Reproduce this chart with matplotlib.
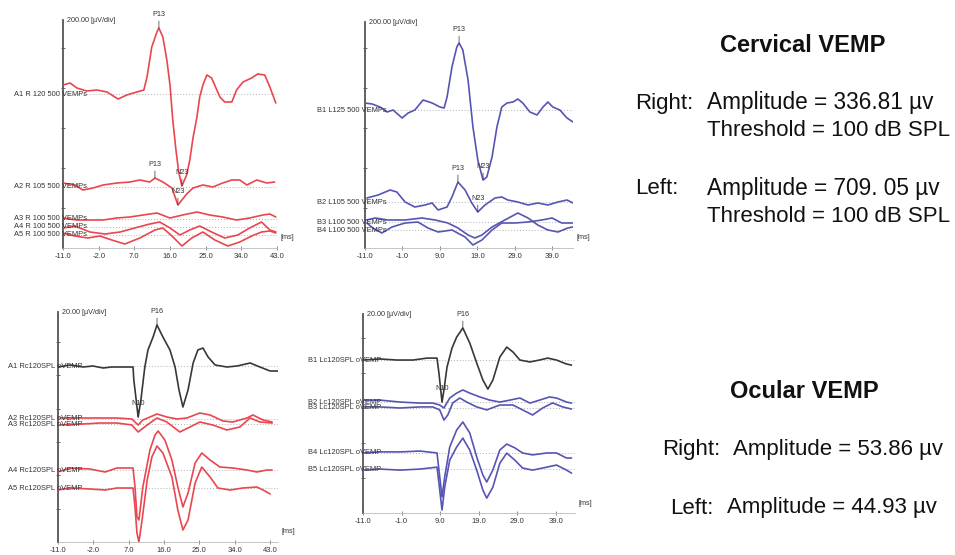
import matplotlib
matplotlib.use("Agg")
import matplotlib.pyplot as plt
from matplotlib import transforms
import numpy as np

plt.rcParams['font.family'] = ['Liberation Sans', 'DejaVu Sans']

W, H = 955, 555

RED = "#e9464f"
BLUE = "#5555b3"
BLACK = "#383838"

# ------------------------------------------------------------------ data
# ---- Panel 1: cervical VEMP, right ear (200 uV/div)
p1_xticks = [-11.0, -2.0, 7.0, 16.0, 25.0, 34.0, 43.0]
p1_labels = ["A1 R 120 500 VEMPs", "A2 R 105 500 VEMPs", "A3 R 100 500 VEMPs",
             "A4 R 100 500 VEMPs", "A5 R 100 500 VEMPs"]
p1_offsets = [770, 305, 145, 105, 65]
p1_a1_ms = [-11.0, -9.2, -7.5, -5.0, -2.4, 0.1, 2.9, 5.1, 7.6, 9.4, 10.2, 11.4, 12.7, 13.2, 14.2, 15.2,
            16.0, 16.7, 17.5, 18.2, 19.0, 20.2, 21.0, 21.8, 22.8, 23.5, 24.3, 25.3, 26.5, 28.6, 29.8,
            31.6, 32.8, 34.4, 36.6, 38.1, 39.9, 41.2, 42.7]
p1_a1_uv = [45, 55, 30, 15, 20, 10, -25, -5, 10, 20, 85, 235, 310, 330, 285, 170, 45, -130, -280, -390,
            -460, -405, -330, -220, -115, -15, 45, 95, 80, -15, -40, -40, 20, 60, 80, 100, 95, 35, -45]
p1_a2_ms = [-11.0, -8.0, -6.0, -3.4, -0.9, 2.6, 5.9, 8.4, 10.9, 12.2, 14.2, 16.5, 17.2, 18.0, 19.0,
            20.2, 21.8, 24.3, 26.8, 29.3, 31.6, 33.6, 35.4, 37.9, 40.4, 42.4]
p1_a2_uv = [20, 10, -15, -5, 10, 20, 25, 35, 25, 45, 25, -5, -45, -90, -65, -35, -5, 10, 0, 20, 35,
            35, 10, 35, 20, 25]
p1_a3_ms = [-11.0, -7.5, -4.2, -0.9, 2.6, 5.9, 9.2, 12.7, 16.0, 19.2, 22.8, 26.0, 29.3, 32.8, 36.1,
            39.4, 41.2, 42.7]
p1_a3_uv = [5, -5, -5, -5, 5, 10, 20, 30, 5, 20, 35, 20, 10, -5, 5, 20, 25, 10]
p1_a4_ms = [-11.0, -8.0, -4.2, -0.4, 3.4, 7.1, 10.9, 13.4, 16.0, 18.5, 21.0, 23.5, 26.5, 29.8, 33.1,
            36.1, 39.1, 41.2, 42.7]
p1_a4_uv = [-5, 5, -25, -35, -25, -5, 15, 25, -5, -40, -15, 5, -25, -55, -40, -5, 25, -15, -25]
p1_a5_ms = [-11.0, -8.0, -4.7, -1.7, 1.3, 4.6, 8.4, 12.2, 14.2, 16.5, 19.0, 21.5, 24.3, 27.3, 30.6,
            33.6, 36.6, 39.1, 41.2, 42.7]
p1_a5_uv = [10, -5, -15, -5, -25, -45, -15, 25, 35, -5, -55, -15, 15, -25, -55, -35, -5, 15, 20, 10]

# ---- Panel 2: cervical VEMP, left ear (200 uV/div)
p2_xticks = [-11.0, -1.0, 9.0, 19.0, 29.0, 39.0]
p2_labels = ["B1 L125 500 VEMPs", "B2 L105 500 VEMPs", "B3 L100 500 VEMPs", "B4 L100 500 VEMPs"]
p2_offsets = [690, 230, 130, 90]
p2_b1_ms = [-11.0, -9.1, -7.0, -5.1, -3.5, -1.1, 0.5, 2.3, 4.5, 6.9, 9.0, 10.1, 10.9, 12.2, 13.5, 14.1,
            15.1, 16.5, 17.8, 19.1, 20.5, 21.5, 22.9, 24.2, 25.5, 26.9, 28.5, 29.8, 31.1, 33.0, 34.9,
            36.5, 37.8, 39.1, 41.0, 42.9, 44.5]
p2_b1_uv = [35, 30, 15, -10, 0, -40, -15, 0, 50, 35, 15, 10, 65, 215, 315, 335, 300, 150, -85, -250,
            -350, -335, -235, -85, 15, 35, 40, 55, 35, -10, -25, 15, 40, 15, 0, -40, -60]
p2_b2_ms = [-10.5, -7.5, -4.3, -2.5, -0.3, 2.3, 5.0, 6.9, 8.5, 10.9, 12.2, 13.8, 15.7, 17.5, 19.1,
            21.0, 23.7, 25.5, 27.1, 29.8, 32.5, 35.1, 37.8, 40.5, 42.9, 44.5]
p2_b2_uv = [20, 35, 60, 50, 0, -25, -15, -5, -40, -25, 25, 100, 60, -5, -50, -15, 20, 25, 10, 0, -15,
            -5, -15, 0, 10, -5]
p2_b3_ms = [-10.5, -8.3, -4.9, -0.3, 4.2, 7.7, 11.1, 13.8, 16.5, 18.3, 20.2, 22.9, 26.3, 29.8, 32.5,
            35.1, 37.8, 40.5, 43.1, 44.5]
p2_b3_uv = [10, 20, 10, 10, 20, 10, -5, -30, -65, -80, -65, -25, 10, 45, 20, -15, -40, -50, -30, -25]
p2_b4_ms = [-10.5, -8.9, -6.5, -3.8, -0.3, 3.1, 5.8, 8.5, 12.2, 15.7, 17.8, 20.2, 22.9, 25.5, 29.0,
            32.5, 36.2, 38.9, 41.5, 44.5]
p2_b4_uv = [35, 10, -15, 15, 35, 40, 10, -10, 0, -35, -75, -50, 0, 35, 35, 40, 50, 60, 35, 35]

# ---- Panel 3: ocular VEMP, right (20 uV/div)
p3_xticks = [-11.0, -2.0, 7.0, 16.0, 25.0, 34.0, 43.0]
p3_labels = ["A1 Rc120SPL oVEMP", "A2 Rc120SPL oVEMP", "A3 Rc120SPL oVEMP",
             "A4 Rc120SPL oVEMP", "A5 Rc120SPL oVEMP"]
p3_offsets = [105.6, 73.8, 70.8, 43.2, 32.4]
p3_a1_ms = [-11.0, -7.9, -4.6, -2.1, 0.5, 2.7, 5.5, 8.1, 8.3, 8.9, 9.4, 10.1, 11.1, 11.9, 13.2, 14.2,
            15.7, 17.5, 18.8, 19.8, 20.8, 22.1, 23.4, 24.6, 25.9, 27.2, 29.0, 32.0, 34.6, 37.9, 40.4,
            43.0, 45.0]
p3_a1_uv = [-0.6, 0.6, -0.6, 0, -1.2, -0.6, -0.6, -0.6, -8.4, -20.4, -30.6, -20.4, -0.6, 9.6, 17.4,
            24.6, 17.4, 9.6, -0.6, -14.4, -24.6, -14.4, 1.8, 9.6, 10.8, 5.4, 0.6, -0.6, 0, 1.8, -0.6,
            -3.0, -3.0]
p3_a2_ms = [-10.5, -4.6, -0.3, 4.0, 7.8, 9.4, 10.6, 14.2, 16.7, 19.3, 21.8, 25.1, 27.7, 31.0, 33.5,
            37.1, 38.6, 41.2, 43.5]
p3_a2_uv = [0.6, 0.6, 0.6, 0.6, 0, -3.6, -0.6, 3.0, 1.2, 0, 0.6, 3.6, 2.4, -1.2, -1.8, 0.6, 2.4, -0.6,
            -1.8]
p3_a3_ms = [-10.5, -4.6, -0.3, 4.0, 7.8, 9.4, 11.7, 14.2, 16.7, 20.0, 22.6, 25.1, 28.4, 32.0, 35.3,
            37.9, 40.4, 43.5]
p3_a3_uv = [-0.6, 0, 0.6, 0.6, -0.6, -4.8, -0.6, 3.6, 1.2, -4.8, -1.8, 1.2, -0.6, -3.6, -1.8, 3.6, 1.2,
            0.6]
p3_a4_ms = [-11.0, -7.9, -2.9, 1.0, 4.0, 8.1, 8.6, 9.1, 9.6, 10.6, 12.4, 13.7, 14.5, 16.2, 18.0, 19.5,
            20.8, 22.1, 23.9, 25.6, 27.7, 30.2, 33.5, 37.1, 39.6, 42.2, 43.5]
p3_a4_uv = [-1.2, 1.2, 0.6, -1.2, 1.2, 1.2, -10.2, -28.2, -30.0, -10.2, 12.0, 21.0, 23.4, 18.0, 6.0,
            -10.2, -22.2, -13.8, 4.2, 10.2, 6.0, 1.8, 1.2, 0, -1.2, 0, 0]
p3_a5_ms = [-11.0, -7.9, -2.9, 1.0, 4.0, 8.1, 8.6, 9.1, 9.6, 10.4, 11.7, 12.9, 14.2, 15.7, 18.0, 19.5,
            20.8, 22.1, 23.9, 25.6, 27.7, 29.7, 32.8, 36.1, 39.6, 41.2, 43.0]
p3_a5_uv = [-1.2, 0, -0.6, -1.2, 0, 0, -11.4, -27.0, -32.4, -19.2, 4.8, 18.6, 25.2, 21.0, 6.6, -13.2,
            -25.2, -19.2, 3.0, 12.6, 6.6, 0, -1.2, 0, 0.6, -1.2, -3.6]

# ---- Panel 4: ocular VEMP, left (20 uV/div)
p4_xticks = [-11.0, -1.0, 9.0, 19.0, 29.0, 39.0]
p4_labels = ["B1 Lc120SPL oVEMP", "B2 Lc120SPL oVEMP", "B3 Lc120SPL oVEMP",
             "B4 Lc120SPL oVEMP", "B5 Lc120SPL oVEMP"]
p4_offsets = [87.4, 63.4, 60.0, 34.3, 25.1]
p4_b1_ms = [-11.0, -6.6, -2.2, 2.0, 5.6, 8.2, 8.7, 9.5, 10.0, 10.8, 12.1, 13.3, 14.9, 16.7, 18.5, 20.1,
            21.4, 22.7, 24.5, 26.3, 27.9, 29.7, 32.3, 34.8, 36.9, 39.2, 41.8, 43.1]
p4_b1_uv = [0, 0.6, 0, 0, 1.1, 1.1, -7.4, -24.0, -17.1, -4.0, 6.9, 13.1, 18.3, 9.7, -1.7, -11.4, -16.6,
            -11.4, 1.7, 7.4, 4.6, 0, -1.1, 0, 1.1, 0, -2.3, -2.9]
p4_b2_ms = [-11.0, -6.6, -1.4, 3.8, 7.1, 8.9, 10.0, 11.5, 13.3, 14.9, 16.7, 19.3, 21.9, 24.5, 27.1,
            29.7, 32.3, 34.8, 37.4, 39.2, 41.8, 43.1]
p4_b2_uv = [1.1, 1.1, 0, -0.6, -0.6, -1.7, -3.4, 2.3, 5.1, 6.9, 5.1, 2.9, 1.1, 0, 1.1, 2.3, -0.6, 1.1,
            2.9, 2.3, 0, -0.6]
p4_b3_ms = [-11.0, -6.6, -1.4, 3.8, 7.1, 8.9, 10.0, 11.0, 12.3, 14.1, 15.9, 18.5, 21.1, 24.5, 27.9,
            30.4, 33.0, 35.6, 38.2, 40.8, 43.1]
p4_b3_uv = [0.6, 0.6, 0, 0.6, 0.6, -1.1, -6.9, -4.0, 2.9, 5.7, 3.4, 0.6, -1.1, 1.7, 1.7, -1.1, -4.0, 0,
            2.9, 0.6, -0.6]
p4_b4_ms = [-11.0, -6.6, -1.4, 3.8, 8.2, 8.7, 9.5, 10.2, 11.5, 13.3, 14.9, 16.7, 18.5, 20.1, 21.1, 22.7,
            24.5, 26.3, 28.4, 30.4, 33.0, 36.7, 39.2, 41.8, 43.1]
p4_b4_uv = [0, 0.6, 0.6, 1.1, 0, -9.7, -25.1, -13.7, 3.4, 13.1, 17.7, 11.4, -2.3, -12.6, -16.6, -9.7,
            1.7, 5.1, 2.9, 0, -1.1, 0, 0, -2.9, -2.9]
p4_b5_ms = p4_b4_ms
p4_b5_uv = [-0.6, 0, -0.6, 0, 1.1, -8.0, -23.4, -10.3, 5.1, 12.6, 17.7, 10.8, -0.6, -12.0, -16.6,
            -10.3, 3.4, 9.1, 5.1, 0.6, -0.6, 1.1, 2.3, -0.6, -2.3]

# ------------------------------------------------------------------ drawing
fig = plt.figure(figsize=(W / 100, H / 100), dpi=100)
fig.patch.set_facecolor("white")


def px_axes(left, top, right, bottom):
    return fig.add_axes([left / W, 1 - bottom / H, (right - left) / W, (bottom - top) / H])


def style_panel(ax, xlim, ylim, xticks, ystep, scale_text):
    ax.set_xlim(*xlim)
    ax.set_ylim(*ylim)
    for s in ("top", "right"):
        ax.spines[s].set_visible(False)
    ax.spines["left"].set_color("#555555")
    ax.spines["left"].set_linewidth(1.3)
    ax.spines["bottom"].set_color("#bbbbbb")
    ax.spines["bottom"].set_linewidth(0.6)
    ax.set_xticks(xticks)
    ax.set_xticklabels([f"{t:.1f}" for t in xticks])
    ax.set_yticks(np.arange(ystep, ylim[1], ystep))
    ax.set_yticklabels([])
    ax.tick_params(axis="x", direction="inout", length=3, width=0.6, colors="#777777",
                   labelcolor="#333333", labelsize=5.5, pad=2)
    ax.tick_params(axis="y", direction="inout", length=3, width=0.6, colors="#555555")
    ax.patch.set_alpha(0)
    ax.text(0.02, 1.0, scale_text, transform=ax.transAxes, fontsize=5.2, color="#333333",
            va="center", ha="left")
    ax.text(1.015, 0.03, "[ms]", transform=ax.transAxes, fontsize=5.2, color="#333333",
            va="bottom", ha="left")


def draw_trace(ax, ms, uv, offset, color, label, label_x):
    ms = np.asarray(ms)
    y = np.asarray(uv) + offset
    ax.axhline(offset, color="#b0b0b0", lw=0.7, ls=(0, (1, 2)), zorder=1)
    ax.plot(ms, y, color=color, lw=1.2, zorder=3, solid_joinstyle="round", solid_capstyle="round")
    tr = transforms.blended_transform_factory(ax.transAxes, ax.transData)
    ax.text(label_x, offset, label, transform=tr, fontsize=5.4, color="#333333",
            va="center", ha="left", clip_on=False, zorder=4)
    return ms, y


def mark(ax, ms, y, idx, text):
    ax.annotate(text, xy=(ms[idx], y[idx]), xytext=(0, 7), textcoords="offset points",
                ha="center", va="bottom", fontsize=5.2, color="#333333",
                arrowprops=dict(arrowstyle="-", lw=0.5, color="#333333", shrinkA=0, shrinkB=0))


# Panel 1
ax1 = px_axes(63, 20, 277, 248)
style_panel(ax1, (-11, 43), (0, 1140), p1_xticks, 200, "200.00 [\u00b5V/div]")
p1_traces = [(p1_a1_ms, p1_a1_uv), (p1_a2_ms, p1_a2_uv), (p1_a3_ms, p1_a3_uv),
             (p1_a4_ms, p1_a4_uv), (p1_a5_ms, p1_a5_uv)]
res = [draw_trace(ax1, m, u, o, RED, l, -0.229) for (m, u), o, l in zip(p1_traces, p1_offsets, p1_labels)]
for k in range(2):
    m, y = res[k]
    mark(ax1, m, y, int(np.argmax(p1_traces[k][1])), "P13")
    mark(ax1, m, y, int(np.argmin(p1_traces[k][1])), "N23")

# Panel 2
ax2 = px_axes(365, 22, 573, 248)
style_panel(ax2, (-11, 44.5), (0, 1130), p2_xticks, 200, "200.00 [\u00b5V/div]")
p2_traces = [(p2_b1_ms, p2_b1_uv), (p2_b2_ms, p2_b2_uv), (p2_b3_ms, p2_b3_uv), (p2_b4_ms, p2_b4_uv)]
res = [draw_trace(ax2, m, u, o, BLUE, l, -0.231) for (m, u), o, l in zip(p2_traces, p2_offsets, p2_labels)]
for k in range(2):
    m, y = res[k]
    mark(ax2, m, y, int(np.argmax(p2_traces[k][1])), "P13")
    mark(ax2, m, y, int(np.argmin(p2_traces[k][1])), "N23")

# Panel 3
ax3 = px_axes(58, 312, 278, 542)
style_panel(ax3, (-11, 45), (0, 138), p3_xticks, 20, "20.00 [\u00b5V/div]")
p3_traces = [(p3_a1_ms, p3_a1_uv), (p3_a2_ms, p3_a2_uv), (p3_a3_ms, p3_a3_uv),
             (p3_a4_ms, p3_a4_uv), (p3_a5_ms, p3_a5_uv)]
p3_colors = [BLACK, RED, RED, RED, RED]
res = [draw_trace(ax3, m, u, o, c, l, -0.227)
       for (m, u), o, c, l in zip(p3_traces, p3_offsets, p3_colors, p3_labels)]
m, y = res[0]
mark(ax3, m, y, int(np.argmax(p3_a1_uv)), "P16")
mark(ax3, m, y, int(np.argmin(p3_a1_uv)), "N10")

# Panel 4
ax4 = px_axes(363, 314, 575, 513)
style_panel(ax4, (-11, 44), (0, 113.7), p4_xticks, 20, "20.00 [\u00b5V/div]")
p4_traces = [(p4_b1_ms, p4_b1_uv), (p4_b2_ms, p4_b2_uv), (p4_b3_ms, p4_b3_uv),
             (p4_b4_ms, p4_b4_uv), (p4_b5_ms, p4_b5_uv)]
p4_colors = [BLACK, BLUE, BLUE, BLUE, BLUE]
res = [draw_trace(ax4, m, u, o, c, l, -0.259)
       for (m, u), o, c, l in zip(p4_traces, p4_offsets, p4_colors, p4_labels)]
m, y = res[0]
mark(ax4, m, y, int(np.argmax(p4_b1_uv)), "P16")
mark(ax4, m, y, int(np.argmin(p4_b1_uv)), "N10")

# ------------------------------------------------------------------ right-hand text
def ftext(x, y, s, **kw):
    fig.text(x / W, 1 - y / H, s, va="center", color="#111111", **kw)

ftext(803, 45, "Cervical VEMP", fontsize=17, fontweight="bold", ha="center")
ftext(635, 103, "Right:", fontsize=16, ha="left")
ftext(707, 103, "Amplitude = 336.81 \u00b5v", fontsize=16.3, ha="left")
ftext(707, 131, "Threshold = 100 dB SPL", fontsize=16, ha="left")
ftext(635, 188, "Left:", fontsize=16, ha="left")
ftext(707, 188, "Amplitude = 709. 05 \u00b5v", fontsize=16.3, ha="left")
ftext(707, 216, "Threshold = 100 dB SPL", fontsize=16, ha="left")

ftext(804, 391, "Ocular VEMP", fontsize=17, fontweight="bold", ha="center")
ftext(662, 450, "Right:", fontsize=16, ha="left")
ftext(733, 450, "Amplitude = 53.86 \u00b5v", fontsize=16, ha="left")
ftext(670, 508, "Left:", fontsize=16, ha="left")
ftext(727, 508, "Amplitude = 44.93 \u00b5v", fontsize=16, ha="left")

fig.savefig("out.png", dpi=100, facecolor="white")
